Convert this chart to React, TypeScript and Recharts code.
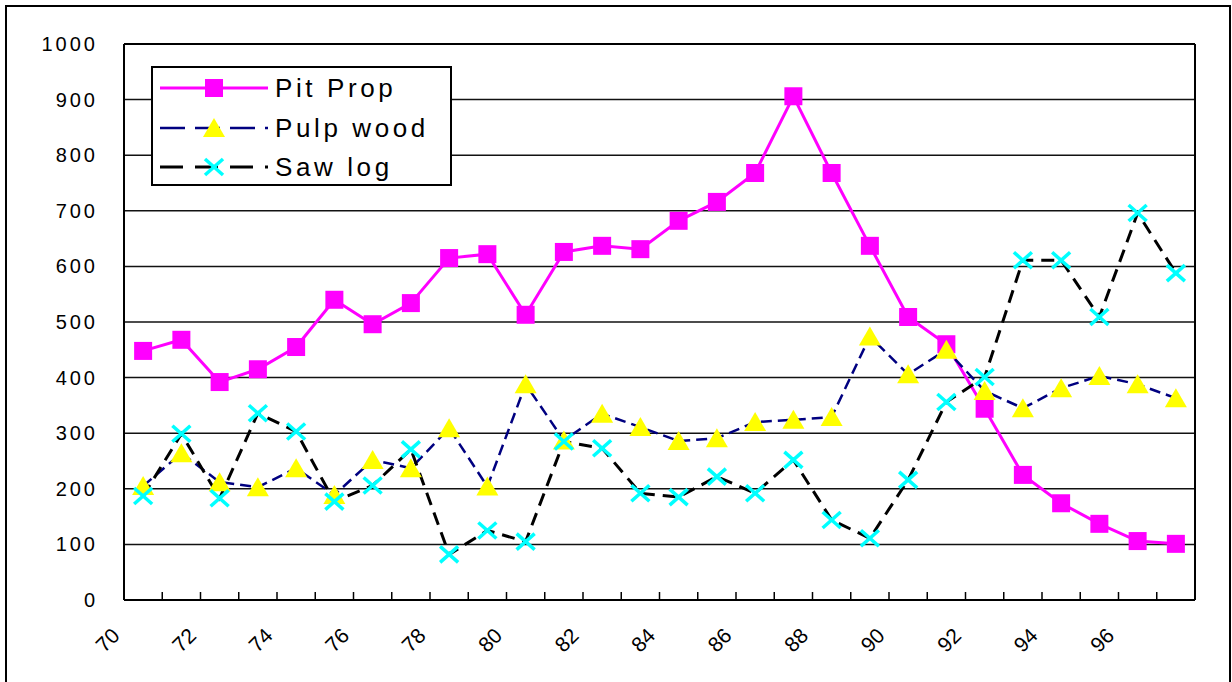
import React from "react";
import { LineChart, Line, XAxis, YAxis, CartesianGrid, ReferenceLine, Legend } from "recharts";

const YEARS = [70, 71, 72, 73, 74, 75, 76, 77, 78, 79, 80, 81, 82, 83, 84, 85, 86, 87, 88, 89, 90, 91, 92, 93, 94, 95, 96, 97];
const PIT_PROP = [448, 468, 392, 415, 455, 540, 496, 534, 615, 622, 513, 626, 637, 631, 682, 716, 768, 906, 768, 637, 509, 460, 344, 225, 174, 137, 106, 101];
const PULP_WOOD = [205, 264, 212, 203, 237, 189, 252, 237, 309, 204, 388, 287, 335, 311, 286, 291, 320, 324, 329, 474, 406, 450, 376, 345, 381, 403, 388, 363];
const SAW_LOG = [187, 299, 183, 336, 303, 177, 206, 271, 82, 125, 105, 285, 273, 192, 185, 222, 192, 252, 144, 111, 216, 356, 401, 611, 611, 509, 696, 588];

const Y_TICKS = [0, 100, 200, 300, 400, 500, 600, 700, 800, 900, 1000];
// tick marks sit on the category boundaries, labels on every other one
const X_TICKS = [70, 71, 72, 73, 74, 75, 76, 77, 78, 79, 80, 81, 82, 83, 84, 85, 86, 87, 88, 89, 90, 91, 92, 93, 94, 95, 96, 97, 98];
const X_LABELS = [70, 72, 74, 76, 78, 80, 82, 84, 86, 88, 90, 92, 94, 96];

const FONT = '"Liberation Sans", Arial, sans-serif';

const SERIES = [
  { key: "pit", name: "Pit Prop", color: "#FF00FF", width: 3, dash: undefined as string | undefined, legendDash: undefined as string | undefined, marker: "square" },
  { key: "pulp", name: "Pulp wood", color: "#000080", width: 2.5, dash: "11 6", legendDash: "25 10", marker: "triangle" },
  { key: "saw", name: "Saw log", color: "#000000", width: 3, dash: "13 8", legendDash: "23 12", marker: "cross" },
];

// points sit in the middle of each year's slot
const rows = YEARS.map((yr, i) => ({
  x: yr + 0.5,
  pit: PIT_PROP[i],
  pulp: PULP_WOOD[i],
  saw: SAW_LOG[i],
}));

function Marker({ kind, cx, cy }: { kind: string; cx: number; cy: number }) {
  if (kind === "square") {
    return <rect x={cx - 9} y={cy - 9} width={18} height={18} fill="#FF00FF" />;
  }
  if (kind === "triangle") {
    return <polygon points={`${cx},${cy - 10} ${cx + 11},${cy + 9} ${cx - 11},${cy + 9}`} fill="#FFFF00" />;
  }
  return (
    <g stroke="#00FFFF" strokeWidth={3.5}>
      <line x1={cx - 9} y1={cy - 8} x2={cx + 9} y2={cy + 8} />
      <line x1={cx - 9} y1={cy + 8} x2={cx + 9} y2={cy - 8} />
    </g>
  );
}

const makeDot = (kind: string) => (p: any) => {
  if (p.cx == null || p.cy == null) return <g key={`${kind}-${p.index}`} />;
  return (
    <g key={`${kind}-${p.index}`}>
      <Marker kind={kind} cx={p.cx} cy={p.cy} />
    </g>
  );
};

function XTick(p: any) {
  const v = p.payload.value;
  const ax = p.x - 3;
  const ay = p.y + 37;
  return (
    <g>
      {v > 70 && v < 98 && <line x1={p.x} x2={p.x} y1={p.y} y2={p.y - 8} stroke="#000" strokeWidth={1.5} />}
      {X_LABELS.includes(v) && (
        <text x={ax} y={ay} transform={`rotate(-45 ${ax} ${ay})`} textAnchor="end" fontSize={21} fontFamily={FONT} fill="#000">
          {v}
        </text>
      )}
    </g>
  );
}

function YTick(p: any) {
  return (
    <text x={p.x - 26} y={p.y + 7} textAnchor="end" fontSize={20} letterSpacing={3} fontFamily={FONT} fill="#000">
      {p.payload.value}
    </text>
  );
}

function LegendBox() {
  const rowY = [22, 62, 101];
  return (
    <svg width={301} height={120} style={{ display: "block" }}>
      <rect x={1} y={1} width={299} height={118} fill="#fff" stroke="#000" strokeWidth={2} />
      {SERIES.map((s, i) => (
        <g key={s.key}>
          <line x1={9} x2={117} y1={rowY[i]} y2={rowY[i]} stroke={s.color} strokeWidth={s.width} strokeDasharray={s.legendDash} />
          <Marker kind={s.marker} cx={63} cy={rowY[i]} />
          <text x={124} y={rowY[i] + 9} fontSize={26} letterSpacing={3.6} fontFamily={FONT} fill="#000">
            {s.name}
          </text>
        </g>
      ))}
    </svg>
  );
}

export default function App() {
  return (
    <div style={{ position: "absolute", left: 0, top: 0, width: 1232, height: 682, overflow: "hidden", background: "#fff" }}>
      <div style={{ position: "absolute", left: 5, top: 5, width: 1226, height: 720, border: "2px solid #000", boxSizing: "border-box" }} />
      <LineChart width={1232} height={682} data={rows} margin={{ top: 44, right: 37, bottom: 0, left: 0 }}>
        <CartesianGrid vertical={false} stroke="#111" strokeWidth={1.5} />
        <XAxis
          dataKey="x"
          type="number"
          domain={[70, 98]}
          ticks={X_TICKS}
          interval={0}
          height={82}
          tickSize={0}
          tickMargin={0}
          tickLine={false}
          axisLine={{ stroke: "#000", strokeWidth: 2 }}
          tick={<XTick />}
        />
        <YAxis
          domain={[0, 1000]}
          ticks={Y_TICKS}
          interval={0}
          width={124}
          tickSize={0}
          tickMargin={0}
          tickLine={false}
          axisLine={{ stroke: "#000", strokeWidth: 2 }}
          tick={<YTick />}
        />
        <ReferenceLine y={1000} stroke="#000" strokeWidth={2} />
        <ReferenceLine x={98} stroke="#000" strokeWidth={2} />
        {SERIES.map((s) => (
          <Line
            key={s.key}
            type="linear"
            dataKey={s.key}
            name={s.name}
            stroke={s.color}
            strokeWidth={s.width}
            strokeDasharray={s.dash}
            dot={makeDot(s.marker)}
            activeDot={false}
            isAnimationActive={false}
          />
        ))}
        <Legend
          layout="vertical"
          align="center"
          verticalAlign="middle"
          content={<LegendBox />}
          wrapperStyle={{ left: 151, top: 66, width: 301, height: 120 }}
        />
      </LineChart>
    </div>
  );
}
